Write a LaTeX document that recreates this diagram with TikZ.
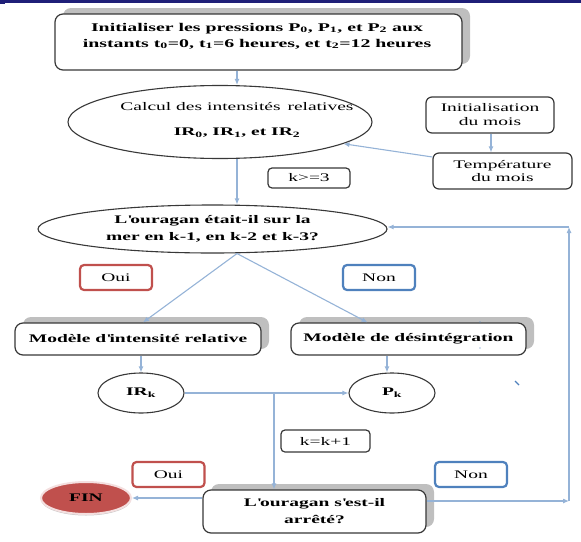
\documentclass[tikz,border=0pt]{standalone}
\usepackage{fontspec}
\setmainfont{Liberation Serif}[FakeStretch=1.68]
\usetikzlibrary{arrows.meta,shapes.geometric,shadows,calc}
\definecolor{lineBlue}{HTML}{95B3D7}
\definecolor{ouiRed}{HTML}{C0504D}
\definecolor{nonBlue}{HTML}{4F81BD}
\definecolor{barNavy}{HTML}{1F1F78}
\colorlet{boxEdge}{black!78}
\newcommand\apos{\textquotesingle}
\tikzset{
  every node/.style={font=\fontsize{11.6}{16}\selectfont},
  flow/.style={draw=lineBlue,line width=1.1pt,-{Latex[length=6pt,width=5pt]}},
  stepBox/.style={draw=boxEdge,line width=1.2pt,rounded corners=8pt,fill=white,inner sep=0pt,align=center},
  shadowBox/.style={stepBox,drop shadow={shadow xshift=8pt,shadow yshift=6pt,fill=gray!50,opacity=1}},
  tagBox/.style={draw=#1,line width=2.2pt,rounded corners=4pt,fill=white,inner sep=0pt,minimum width=72pt,minimum height=25pt},
  oval/.style={ellipse,draw=boxEdge,line width=1.1pt,fill=white,inner sep=0pt,align=center}
}

\begin{document}
\begin{tikzpicture}[x=1pt,y=-1pt]
\useasboundingbox (0,0) rectangle (581,541);
\fill[barNavy] (0,0) rectangle (581,2.5);
\fill[barNavy] (0,0) rectangle (5,4);
\coordinate (xMid) at (237,0);
\coordinate (xMonth) at (491,0);
\coordinate (xLoop) at (274,0);
\coordinate (cornerLow) at (569,501);
\coordinate (cornerHigh) at (569,227);

% top of the chart
\node[shadowBox,minimum width=407pt,minimum height=56pt] (init) at (258.5,42) {};
\node[font=\fontsize{11.8}{16}\selectfont\bfseries,align=center] (initText) at (257,36)
  {Initialiser les pressions P\textsubscript{0}, P\textsubscript{1}, et P\textsubscript{2} aux\\
   instants t\textsubscript{0}=0, t\textsubscript{1}=6 heures, et t\textsubscript{2}=12 heures};
\node[oval,minimum width=304pt,minimum height=73pt] (calcIR) at (220,122) {};
\node (calcTop) at (237,107) {Calcul des intensités\, relatives};
\node[font=\fontsize{11.6}{16}\selectfont\bfseries] (calcBot) at (237,133)
  {IR\textsubscript{0}, IR\textsubscript{1}, et IR\textsubscript{2}};
\node[stepBox,rounded corners=6pt,minimum width=128pt,minimum height=36pt,font=\fontsize{11.6}{14}\selectfont] (month) at (490,115) {Initialisation\\du mois};
\node[stepBox,rounded corners=6pt,minimum width=139pt,minimum height=36pt,font=\fontsize{11.6}{13.5}\selectfont] (temp) at (502.5,171) {Température\\du mois};
\node[stepBox,rounded corners=4pt,minimum width=82pt,minimum height=20pt] (kge) at (309,178) {k>=3};

% first question
\node[oval,minimum width=349pt,minimum height=48pt,font=\fontsize{11.6}{17}\selectfont\bfseries] (seaQ) at (212.5,229)
  {L\apos ouragan était-il sur la\\mer en k-1, en k-2 et k-3?};
\node[shadowBox,minimum width=246pt,minimum height=32pt,font=\fontsize{11.6}{16}\selectfont\bfseries] (mir) at (138,339) {Modèle d\apos intensité relative};
\node[shadowBox,minimum width=235pt,minimum height=32pt,font=\fontsize{11.6}{16}\selectfont\bfseries] (mdi) at (408.5,339) {Modèle de désintégration};
\node[oval,minimum width=86pt,minimum height=40pt,font=\fontsize{11.6}{16}\selectfont\bfseries] (irk) at (141,393) {IR\textsubscript{k}};
\node[oval,minimum width=86pt,minimum height=40pt,font=\fontsize{11.6}{16}\selectfont\bfseries] (pk) at (392,393) {P\textsubscript{k}};
\node[stepBox,rounded corners=4pt,minimum width=89pt,minimum height=22pt] (kinc) at (325.5,441) {k=k+1};

% end of the loop
\node[shadowBox,minimum width=223pt,minimum height=43pt,font=\fontsize{11.6}{17}\selectfont\bfseries] (stop) at (314.5,511.5)
  {L\apos ouragan s\apos est-il\\arrêté?};
\node[ellipse,fill=ouiRed,draw=white!82!ouiRed,line width=2pt,minimum width=90pt,minimum height=32pt,inner sep=0pt,
  drop shadow={shadow xshift=0pt,shadow yshift=-1.5pt,fill=gray!45,opacity=1},font=\fontsize{11.6}{16}\selectfont\bfseries] (fin) at (86,498) {FIN};

\foreach \nm/\x/\y/\clr/\txt in {ouiA/116/277.5/ouiRed/Oui,nonA/379/277.5/nonBlue/Non,ouiB/168.5/474.5/ouiRed/Oui,nonB/471/474.5/nonBlue/Non}
{
  \node[tagBox=\clr] (\nm) at (\x,\y) {\txt};
}

% connectors
\draw[flow] (init.south -| xMid) -- (calcIR.north -| xMid);
\draw[flow] (month.south -| xMonth) -- (temp.north -| xMonth);
\draw[flow] ($(temp.west)+(0,-14)$) -- (calcIR.-10);
\draw[flow] (calcIR.south -| xMid) -- (seaQ.north -| xMid);
\draw[flow] (seaQ.south -| xMid) -- ($(mir.north)+(5,0)$);
\draw[flow] (seaQ.south -| xMid) -- ($(mdi.north)+(-41,0)$);
\draw[flow] (irk.north |- mir.south) -- (irk.north);
\draw[flow] ($(pk.north |- mdi.south)+(-5,0)$) -- ($(pk.north)+(-5,0)$);
\draw[flow] (irk.east) -- (pk.west);
\draw[flow] (irk.east -| xLoop) -- (stop.north -| xLoop);
\draw[flow] (stop.west |- fin.east) -- (fin.east);
\draw[flow] (stop.east |- cornerLow) -- (cornerLow);
\draw[flow] (cornerLow) -- (cornerHigh);
\draw[flow] (cornerHigh) -- (seaQ.east |- cornerHigh);

% stray marks
\fill[nonBlue] (480,322) circle (0.7);
\fill[nonBlue] (480,348) circle (0.7);
\draw[nonBlue,line width=1.2pt] (515,381) -- (519,385);
\end{tikzpicture}
\end{document}
